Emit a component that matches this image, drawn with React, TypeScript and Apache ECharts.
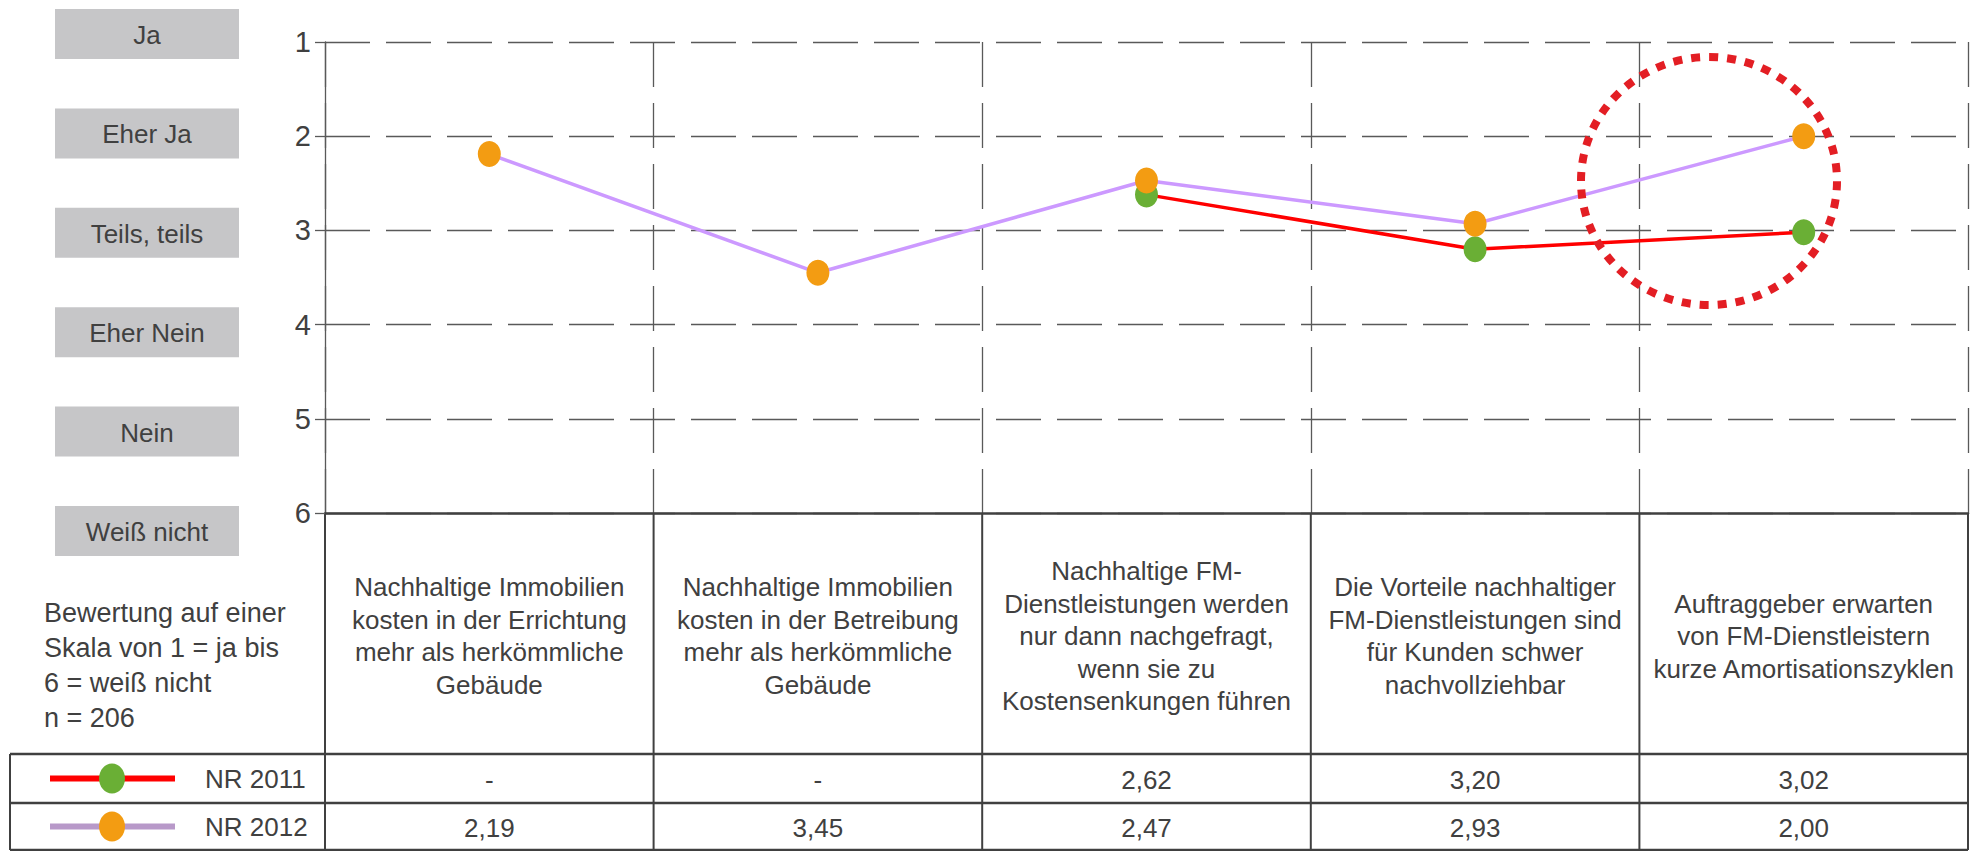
import React, { useEffect, useRef } from "react";
import * as echarts from "echarts";

const categories = [
  "Nachhaltige Immobilien\nkosten in der Errichtung\nmehr als herkömmliche\nGebäude",
  "Nachhaltige Immobilien\nkosten in der Betreibung\nmehr als herkömmliche\nGebäude",
  "Nachhaltige FM-\nDienstleistungen werden\nnur dann nachgefragt,\nwenn sie zu\nKostensenkungen führen",
  "Die Vorteile nachhaltiger\nFM-Dienstleistungen sind\nfür Kunden schwer\nnachvollziehbar",
  "Auftraggeber erwarten\nvon FM-Dienstleistern\nkurze Amortisationszyklen",
];
const nr2011: (number | null)[] = [null, null, 2.62, 3.2, 3.02];
const nr2012: (number | null)[] = [2.19, 3.45, 2.47, 2.93, 2.0];
const seriesNames = ["NR 2011", "NR 2012"];
const scaleLabels = ["Ja", "Eher Ja", "Teils, teils", "Eher Nein", "Nein", "Weiß nicht"];
const yMin = 1;
const yMax = 6;
const noteLines = ["Bewertung auf einer", "Skala von 1 = ja bis", "6 = weiß nicht", "n = 206"];

const FONT = "Liberation Sans, Arial, sans-serif";
const TXT = "#404040";
const RED = "#ff0000";
const GREEN = "#6aaf35";
const PURPLE = "#cc99ff";
const PURPLE_LEG = "#b899c9";
const ORANGE = "#f39c12";

const fmt = (v: number | null) => (v == null ? "-" : v.toFixed(2).replace(".", ","));

export default function App() {
  const ref = useRef<HTMLDivElement>(null);
  useEffect(() => {
    if (!ref.current) return;
    const chart = echarts.init(ref.current, null, { renderer: "svg" });
    const dashed = { color: "#595959", width: 1.3, type: [45, 16] as any };
    chart.setOption({
      animation: false,
      grid: { left: 325, right: 10, top: 42, bottom: 338 },
      xAxis: {
        type: "category",
        data: categories,
        boundaryGap: true,
        axisLine: { show: true, lineStyle: { color: TXT, width: 2.5 } },
        axisTick: { show: false },
        splitLine: { show: true, lineStyle: dashed },
        axisLabel: {
          interval: 0,
          margin: 123,
          verticalAlign: "middle",
          align: "center",
          lineHeight: 32.5,
          fontSize: 26,
          color: TXT,
          fontFamily: FONT,
        },
      },
      yAxis: {
        type: "value",
        inverse: true,
        min: yMin,
        max: yMax,
        interval: 1,
        axisLine: { show: true, lineStyle: { color: "#595959", width: 1.3 } },
        axisTick: { show: true, inside: false, length: 10, lineStyle: { color: "#595959", width: 1.3 } },
        splitLine: { show: true, lineStyle: dashed },
        axisLabel: { margin: 14, fontSize: 29, color: TXT, fontFamily: FONT },
      },
      series: [
        {
          name: seriesNames[0],
          type: "line",
          data: nr2011,
          connectNulls: false,
          symbol: "circle",
          symbolSize: [23, 26],
          lineStyle: { color: RED, width: 3.5 },
          itemStyle: { color: GREEN },
          z: 2,
        },
        {
          name: seriesNames[1],
          type: "line",
          data: nr2012,
          symbol: "circle",
          symbolSize: [23, 26],
          lineStyle: { color: PURPLE, width: 3.5 },
          itemStyle: { color: ORANGE },
          z: 3,
        },
      ],
    });

    const px0 = chart.convertToPixel({ xAxisIndex: 0 }, 0) as number;
    const px1 = chart.convertToPixel({ xAxisIndex: 0 }, 1) as number;
    const colW = px1 - px0;
    const tableLeft = px0 - colW / 2;
    const tableRight = tableLeft + colW * categories.length;
    const headTop = chart.convertToPixel({ yAxisIndex: 0 }, yMax) as number;
    const row1Top = 754;
    const row2Top = 803;
    const tableBottom = 850;
    const legLeft = 10;
    const lineCol = TXT;
    const g: any[] = [];

    // scale label boxes
    scaleLabels.forEach((s, i) => {
      const cy = 34 + i * 99.4;
      g.push({ type: "rect", shape: { x: 55, y: cy - 25, width: 184, height: 50 }, style: { fill: "#c6c6c8" } });
      g.push({
        type: "text",
        x: 147,
        y: cy + 1,
        style: { text: s, font: `26px ${FONT}`, fill: TXT, align: "center", verticalAlign: "middle" },
      });
    });

    // table lines
    for (let i = 0; i <= categories.length; i++) {
      const x = tableLeft + i * colW;
      g.push({ type: "line", shape: { x1: x, y1: headTop, x2: x, y2: tableBottom }, style: { stroke: lineCol, lineWidth: 2 } });
    }
    [row1Top, row2Top, tableBottom].forEach((y) => {
      g.push({ type: "line", shape: { x1: legLeft, y1: y, x2: tableRight, y2: y }, style: { stroke: lineCol, lineWidth: 2.5 } });
    });
    g.push({ type: "line", shape: { x1: legLeft, y1: row1Top, x2: legLeft, y2: tableBottom }, style: { stroke: lineCol, lineWidth: 2 } });

    // legend rows
    const rows = [
      { name: seriesNames[0], line: RED, mark: GREEN, data: nr2011, y: (row1Top + row2Top) / 2 },
      { name: seriesNames[1], line: PURPLE_LEG, mark: ORANGE, data: nr2012, y: (row2Top + tableBottom) / 2 },
    ];
    rows.forEach((r) => {
      g.push({ type: "line", shape: { x1: 50, y1: r.y, x2: 175, y2: r.y }, style: { stroke: r.line, lineWidth: 6 } });
      g.push({ type: "ellipse", shape: { cx: 112, cy: r.y, rx: 13, ry: 15 }, style: { fill: r.mark } });
      g.push({
        type: "text",
        x: 205,
        y: r.y,
        style: { text: r.name, font: `26px ${FONT}`, fill: TXT, align: "left", verticalAlign: "middle" },
      });
      r.data.forEach((v, i) => {
        const cx = chart.convertToPixel({ xAxisIndex: 0 }, i) as number;
        g.push({
          type: "text",
          x: cx,
          y: r.y + 1,
          style: { text: fmt(v), font: `26px ${FONT}`, fill: TXT, align: "center", verticalAlign: "middle" },
        });
      });
    });

    // note text
    g.push({
      type: "text",
      x: 44,
      y: 665,
      style: {
        text: noteLines.join("\n"),
        font: `27px ${FONT}`,
        lineHeight: 35,
        fill: TXT,
        align: "left",
        verticalAlign: "middle",
      },
    });

    // red dotted highlight ellipse
    g.push({
      type: "ellipse",
      shape: { cx: 1709, cy: 181, rx: 128, ry: 124 },
      style: { fill: "none", stroke: "#e31e24", lineWidth: 8, lineDash: [9, 9] },
      z: 10,
    });

    chart.setOption({ graphic: { elements: g } });
    return () => chart.dispose();
  }, []);
  return (
    <div
      ref={ref}
      style={{ position: "fixed", left: 0, top: 0, width: 1978, height: 851, background: "#fff" }}
    />
  );
}
